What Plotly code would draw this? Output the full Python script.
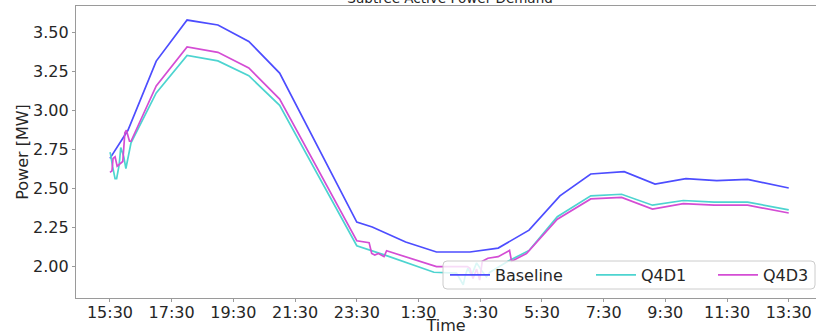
import plotly.graph_objects as go

# ---------------- data ----------------
D1 = "2021-07-01 "
D2 = "2021-07-02 "

baseline_time = [D1 + t for t in ["15:30", "16:05", "17:00", "18:00", "19:00", "20:00", "21:00", "23:30"]] + \
                [D2 + t for t in ["00:00", "01:05", "02:05", "03:10", "04:05", "05:05", "06:05", "07:05",
                                  "08:10", "09:10", "10:10", "11:10", "12:10", "13:30"]]
baseline_mw = [2.69, 2.87, 3.314, 3.577, 3.545, 3.44, 3.237, 2.282,
               2.25, 2.154, 2.09, 2.09, 2.115, 2.23, 2.45, 2.59,
               2.605, 2.525, 2.56, 2.547, 2.555, 2.50]

q4d1_time = [D1 + t for t in ["15:30", "15:31", "15:35", "15:40", "15:43", "15:48", "15:51", "15:57",
                              "16:01", "16:04", "16:11", "17:00", "18:00", "19:00", "20:00", "21:00", "23:30"]] + \
            [D2 + t for t in ["00:25", "02:00", "02:44", "02:50", "02:57", "03:01", "03:06", "03:13",
                              "03:23", "03:33", "03:42", "03:49", "04:08", "04:24", "05:05", "06:00",
                              "07:05", "08:05", "09:05", "10:05", "11:05", "12:10", "13:30"]]
q4d1_mw = [2.73, 2.72, 2.64, 2.56, 2.56, 2.65, 2.76, 2.70,
           2.625, 2.67, 2.79, 3.11, 3.35, 3.315, 3.22, 3.03, 2.13,
           2.07, 1.96, 1.955, 1.92, 1.88, 1.94, 1.985, 1.94,
           2.02, 1.97, 1.93, 1.96, 2.00, 2.03, 2.10, 2.316,
           2.45, 2.46, 2.39, 2.42, 2.41, 2.41, 2.36]

q4d3_time = [D1 + t for t in ["15:30", "15:34", "15:36", "15:40", "15:44", "15:49", "15:55", "15:59",
                              "16:02", "16:08", "16:11", "17:00", "18:00", "19:00", "20:00", "21:00",
                              "23:30", "23:54", "23:59"]] + \
            [D2 + t for t in ["00:05", "00:12", "00:23", "00:28", "02:05", "03:05", "03:10", "03:16",
                              "03:23", "03:29", "03:34", "03:45", "04:05", "04:27", "04:31", "05:00",
                              "06:00", "07:05", "08:05", "09:05", "10:05", "11:05", "12:10", "13:30"]]
q4d3_mw = [2.60, 2.61, 2.69, 2.70, 2.64, 2.655, 2.67, 2.855,
           2.87, 2.80, 2.80, 3.154, 3.404, 3.37, 3.27, 3.07,
           2.162, 2.15, 2.08,
           2.07, 2.08, 2.06, 2.098, 1.996, 1.996, 1.985, 1.92,
           1.98, 1.91, 2.03, 2.05, 2.06, 2.10, 2.03, 2.08,
           2.30, 2.43, 2.44, 2.365, 2.40, 2.39, 2.39, 2.34]

x_tick_vals = [D1 + t for t in ["15:30", "17:30", "19:30", "21:30", "23:30"]] + \
              [D2 + t for t in ["01:30", "03:30", "05:30", "07:30", "09:30", "11:30", "13:30"]]
x_tick_text = ["15:30", "17:30", "19:30", "21:30", "23:30", "1:30", "3:30",
               "5:30", "7:30", "9:30", "11:30", "13:30"]
y_tick_vals = [2.00, 2.25, 2.50, 2.75, 3.00, 3.25, 3.50]

series_names = ["Baseline", "Q4D1", "Q4D3"]
series_colors = ["#4d4dff", "#4dd4d0", "#d44dd4"]

# ---------------- figure ----------------
FONT = "DejaVu Sans"
TXT = "#262626"
AX = "#9a9a9a"

# plot area in pixels: x 76..816, y 6..298
PW, PH = 740.0, 292.0
def px_x(x):
    return (x - 76) / PW
def px_y(y):
    return (298 - y) / PH

legend_ids = ["legend", "legend2", "legend3"]
legend_item_left = [445, 591, 713]   # pixel x where each legend entry begins

fig = go.Figure()
for name, xs, ys, col, lid in zip(series_names,
                                  [baseline_time, q4d1_time, q4d3_time],
                                  [baseline_mw, q4d1_mw, q4d3_mw],
                                  series_colors, legend_ids):
    fig.add_trace(go.Scatter(x=xs, y=ys, mode="lines", name=name, legend=lid,
                             line=dict(color=col, width=1.7)))

leg_common = dict(orientation="h", xanchor="left", yanchor="middle",
                  bgcolor="rgba(0,0,0,0)", borderwidth=0, itemwidth=40,
                  font=dict(family=FONT, size=16, color=TXT))
legends = {}
for lid, xl in zip(legend_ids, legend_item_left):
    legends[lid] = dict(leg_common, x=px_x(xl), y=px_y(275))

# rounded legend frame (pixel box 443..815 x 261..289, corner radius 4 px)
bx0, bx1, by0, by1, r = 443, 815, 261, 289, 4
X = px_x
Y = px_y
frame_path = (
    f"M {X(bx0 + r)},{Y(by0)} L {X(bx1 - r)},{Y(by0)} Q {X(bx1)},{Y(by0)} {X(bx1)},{Y(by0 + r)} "
    f"L {X(bx1)},{Y(by1 - r)} Q {X(bx1)},{Y(by1)} {X(bx1 - r)},{Y(by1)} "
    f"L {X(bx0 + r)},{Y(by1)} Q {X(bx0)},{Y(by1)} {X(bx0)},{Y(by1 - r)} "
    f"L {X(bx0)},{Y(by0 + r)} Q {X(bx0)},{Y(by0)} {X(bx0 + r)},{Y(by0)} Z"
)

fig.update_layout(
    width=816, height=335,
    margin=dict(l=76, r=0, t=6, b=37),
    paper_bgcolor="white", plot_bgcolor="white",
    font=dict(family=FONT, size=16, color=TXT),
    title=dict(text="Subtree Active Power Demand", font=dict(family=FONT, size=13.5, color=TXT),
               xref="container", x=450 / 816, xanchor="center",
               yref="container", y=1 - 3 / 335, yanchor="bottom"),
    showlegend=True,
    **legends,
    shapes=[dict(type="path", xref="paper", yref="paper", path=frame_path,
                 line=dict(color="#cccccc", width=1),
                 fillcolor="rgba(255,255,255,0.8)", layer="above")],
)

fig.update_xaxes(
    type="date", range=[D1 + "14:24", D2 + "14:23"],
    tickvals=x_tick_vals, ticktext=x_tick_text,
    showgrid=False, zeroline=False,
    showline=True, linecolor=AX, linewidth=1.2, mirror=True,
    ticks="outside", ticklen=3, tickcolor=AX, tickwidth=1, ticklabelstandoff=-3,
    tickfont=dict(family=FONT, size=16, color=TXT),
    title=dict(text="Time", font=dict(family=FONT, size=16, color=TXT), standoff=6),
    automargin=False,
)
fig.update_yaxes(
    range=[1.795, 3.667],
    tickvals=y_tick_vals, tickformat=".2f",
    showgrid=False, zeroline=False,
    showline=True, linecolor=AX, linewidth=1.2, mirror=False,
    ticks="outside", ticklen=3, tickcolor=AX, tickwidth=1,
    tickfont=dict(family=FONT, size=16, color=TXT),
    title=dict(text="Power [MW]", font=dict(family=FONT, size=16, color=TXT), standoff=0),
    automargin=False,
)

fig.write_html("out.html")
